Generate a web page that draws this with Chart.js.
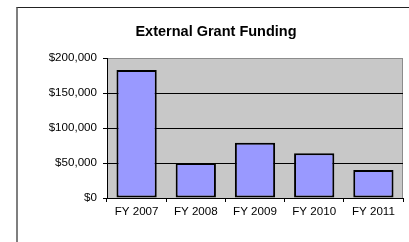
<!DOCTYPE html>
<html>
<head>
<meta charset="utf-8">
<script src="https://cdn.jsdelivr.net/npm/chart.js@4/dist/chart.umd.min.js"></script>
<style>
  html, body { margin: 0; padding: 0; background: #fff; overflow: hidden; }
  #wrap { position: relative; width: 409px; height: 242px; }
  #frame {
    position: absolute; left: 16px; top: 7px; width: 420px; height: 260px;
    border-left: 2px solid #7f7f7f; border-top: 1px solid #222;
  }
  canvas { position: absolute; left: 0; top: 0; }
</style>
</head>
<body>
<div id="wrap">
  <div id="frame"></div>
  <canvas id="grantChart" width="409" height="242"></canvas>
</div>
<script>
// chart data
const years = ["FY 2007", "FY 2008", "FY 2009", "FY 2010", "FY 2011"];
const funding = [183000, 50000, 79000, 64000, 40000];
const yTicks = [0, 50000, 100000, 150000, 200000];

const FONT = "'Liberation Sans', Arial, sans-serif";

// grey plot area + its top/right edge, like the old Excel look
const plotArea = {
  id: "plotArea",
  beforeDraw(chart) {
    const { ctx, chartArea: a } = chart;
    ctx.save();
    ctx.fillStyle = "#c8c8c8";
    ctx.fillRect(a.left, a.top, a.right - a.left, a.bottom - a.top);
    ctx.strokeStyle = "#8c8c8c";
    ctx.lineWidth = 1;
    ctx.beginPath();
    ctx.moveTo(a.right - 0.5, a.top);
    ctx.lineTo(a.right - 0.5, a.bottom);
    ctx.stroke();
    ctx.restore();
  },
};

new Chart(document.getElementById("grantChart"), {
  type: "bar",
  data: {
    labels: years,
    datasets: [
      {
        label: "External Grant Funding",
        data: funding,
        backgroundColor: "#9999ff",
        borderColor: "#000",
        borderWidth: 2,
        borderSkipped: false,
        barPercentage: 0.68,
        categoryPercentage: 1,
      },
    ],
  },
  options: {
    responsive: false,
    animation: false,
    devicePixelRatio: 1,
    layout: { padding: { left: 29, right: 6, top: 0, bottom: 0 } },
    plugins: {
      legend: { display: false },
      tooltip: { enabled: false },
      title: {
        display: true,
        text: "External Grant Funding",
        color: "#000",
        font: { family: FONT, size: 14.5, weight: "bold" },
        padding: { top: 23, bottom: 17.6 },
      },
    },
    scales: {
      x: {
        afterFit: (s) => { s.height = 44; },
        grid: {
          drawOnChartArea: false,
          tickLength: 4,
          tickColor: "#000",
          offset: true,
        },
        border: { color: "#000", width: 1 },
        ticks: {
          color: "#000",
          padding: 3,
          font: { family: FONT, size: 11.6 },
        },
      },
      y: {
        min: 0,
        max: 200000,
        afterFit: (s) => { s.width = 78; },
        afterBuildTicks: (s) => { s.ticks = yTicks.map((v) => ({ value: v })); },
        grid: {
          color: (c) => (c.tick && c.tick.value === 200000 ? "#8c8c8c" : "#000"),
          tickLength: 4,
          tickColor: "#000",
        },
        border: { color: "#000", width: 1 },
        ticks: {
          color: "#000",
          padding: 6,
          font: { family: FONT, size: 11.6 },
          callback: (v) => "$" + Number(v).toLocaleString("en-US"),
        },
      },
    },
  },
  plugins: [plotArea],
});
</script>
</body>
</html>
